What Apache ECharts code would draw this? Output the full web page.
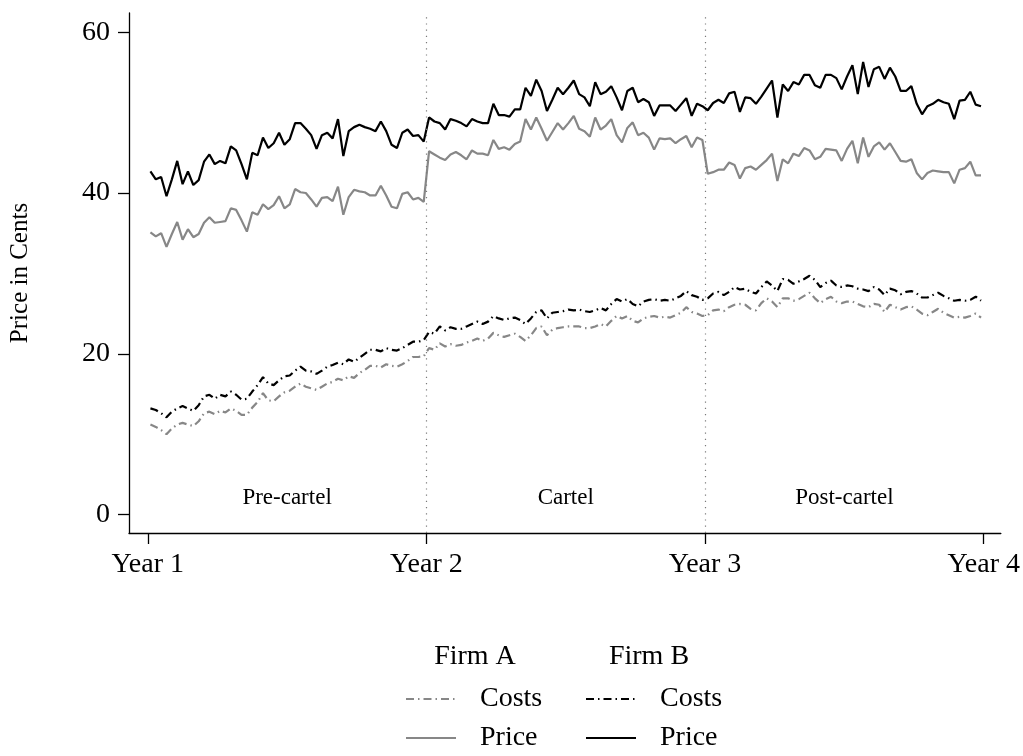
<!DOCTYPE html>
<html><head><meta charset="utf-8">
<script src="https://cdn.jsdelivr.net/npm/echarts@6/dist/echarts.min.js"></script>
<style>html,body{margin:0;padding:0;background:#fff}#c{width:1023px;height:756px}</style>
</head><body><div id="c"></div>
<script>
const yearLabels = ['Year 1', 'Year 2', 'Year 3', 'Year 4'];
const yearTicks = [0, 52, 104, 156];
const yTicks = [0, 20, 40, 60];
const periods = ['Pre-cartel', 'Cartel', 'Post-cartel'];
const firms = ['Firm A', 'Firm B'];
const yTitle = 'Price in Cents';

// weekly observations, 52 per year
const priceB = [
  42.7, 41.7, 42.0, 39.6, 41.7, 44.0, 41.1, 42.7, 41.0, 41.6,
  43.9, 44.8, 43.6, 44.0, 43.7, 45.8, 45.3, 43.6, 41.7, 45.0,
  44.7, 46.9, 45.6, 46.2, 47.5, 46.0, 46.7, 48.7, 48.7, 48.0,
  47.2, 45.5, 47.2, 47.5, 46.8, 49.2, 44.6, 47.7, 48.2, 48.5,
  48.2, 48.0, 47.7, 48.9, 47.7, 46.0, 45.6, 47.5, 47.9, 47.1,
  47.2, 46.4,
  49.4, 48.9, 48.7, 47.9, 49.2, 49.0, 48.7, 48.3, 49.2, 48.9,
  48.7, 48.7, 51.1, 49.7, 49.7, 49.5, 50.4, 50.4, 53.1, 52.1,
  54.1, 52.7, 50.2, 51.6, 53.1, 52.3, 53.1, 54.0, 52.3, 51.9,
  50.8, 53.8, 52.3, 52.6, 53.3, 51.9, 50.3, 52.7, 53.1, 51.3,
  51.7, 51.3, 49.6, 50.9, 50.9, 50.9, 50.2, 51.0, 51.8, 49.6,
  51.1, 50.8,
  50.3, 51.2, 51.6, 51.2, 52.4, 52.6, 50.1, 51.9, 51.8, 51.1,
  52.0, 53.0, 54.0, 49.4, 53.5, 52.7, 53.8, 53.5, 54.7, 54.7,
  53.4, 53.1, 54.7, 54.7, 54.3, 52.9, 54.5, 55.9, 52.3, 56.3,
  53.2, 55.4, 55.7, 54.2, 55.6, 54.5, 52.7, 52.7, 53.3, 51.1,
  49.8, 50.8, 51.1, 51.6, 51.3, 51.1, 49.2, 51.5, 51.6, 52.6,
  51.0, 50.8
];
const priceA = [
  35.1, 34.6, 35.0, 33.3, 34.9, 36.4, 34.2, 35.5, 34.5, 34.9,
  36.3, 37.0, 36.3, 36.4, 36.5, 38.1, 37.9, 36.6, 35.2, 37.6,
  37.3, 38.6, 38.0, 38.5, 39.6, 38.1, 38.6, 40.5, 40.1, 40.0,
  39.2, 38.3, 39.4, 39.5, 39.0, 40.8, 37.3, 39.5, 40.4, 40.2,
  40.1, 39.7, 39.7, 40.9, 39.7, 38.3, 38.1, 39.9, 40.1, 39.2,
  39.4, 38.9,
  45.2, 44.8, 44.4, 44.1, 44.8, 45.1, 44.7, 44.2, 45.3, 44.9,
  44.9, 44.7, 46.6, 45.5, 45.7, 45.4, 46.1, 46.4, 49.2, 47.9,
  49.4, 48.0, 46.5, 47.6, 48.7, 47.9, 48.7, 49.6, 48.0, 47.7,
  47.0, 49.4, 47.9, 48.4, 49.2, 47.2, 46.3, 48.1, 48.8, 47.2,
  47.5, 46.9, 45.4, 46.8, 46.7, 46.8, 46.2, 46.7, 47.1, 45.7,
  46.9, 46.6,
  42.4, 42.6, 42.9, 42.9, 43.8, 43.5, 41.8, 43.1, 43.3, 42.9,
  43.5, 44.1, 44.9, 41.5, 44.2, 43.7, 44.9, 44.6, 45.6, 45.3,
  44.2, 44.5, 45.5, 45.4, 45.3, 44.0, 45.5, 46.5, 43.7, 46.9,
  44.5, 45.8, 46.3, 45.4, 46.2, 45.1, 44.0, 43.9, 44.2, 42.5,
  41.7, 42.5, 42.8, 42.7, 42.6, 42.6, 41.2, 42.9, 43.1, 43.9,
  42.2, 42.2
];
const costsB = [
  13.2, 13.0, 12.6, 12.1, 12.8, 13.2, 13.5, 13.2, 12.9, 13.6,
  14.7, 14.9, 14.4, 14.9, 14.7, 15.3, 14.9, 14.3, 14.4, 15.3,
  16.1, 17.1, 16.3, 16.1, 16.7, 17.2, 17.3, 17.9, 18.4, 17.9,
  17.8, 17.5, 17.9, 18.4, 18.6, 18.9, 18.7, 19.3, 19.0, 19.5,
  20.0, 20.5, 20.5, 20.3, 20.7, 20.5, 20.4, 20.7, 21.1, 21.5,
  21.5, 21.7,
  22.7, 22.5, 23.4, 22.9, 23.3, 23.1, 23.1, 23.4, 23.7, 24.0,
  23.7, 24.0, 24.7, 24.4, 24.2, 24.4, 24.5, 24.2, 23.7, 24.4,
  25.2, 25.4, 24.4, 25.1, 25.2, 25.3, 25.5, 25.4, 25.5, 25.3,
  25.2, 25.4, 25.7, 25.4, 26.2, 26.8, 26.5, 26.8, 26.2, 25.9,
  26.5, 26.7, 26.8, 26.6, 26.7, 26.6, 26.9, 27.2, 27.8, 27.3,
  27.1, 26.7,
  26.9, 27.5, 27.7, 27.3, 27.7, 28.3, 28.0, 28.1, 27.7, 27.5,
  28.3, 29.0, 28.5, 27.8, 29.3, 29.2, 28.7, 29.0, 29.3, 29.7,
  29.2, 28.3, 28.8, 29.1, 28.5, 28.3, 28.5, 28.4, 28.1, 28.0,
  27.8, 28.3, 28.0, 27.3, 28.1, 27.9, 27.4, 27.7, 27.8, 27.5,
  27.0, 27.0, 27.3, 27.6, 27.2, 26.9, 26.6, 26.7, 26.6, 26.7,
  27.1, 26.6
];
const costsA = [
  11.2, 10.9, 10.5, 10.0, 10.7, 11.2, 11.4, 11.2, 11.0, 11.6,
  12.6, 12.8, 12.5, 12.9, 12.7, 13.2, 12.9, 12.4, 12.4, 13.3,
  14.0, 15.1, 14.2, 14.1, 14.7, 15.2, 15.4, 15.9, 16.3, 15.9,
  15.7, 15.5, 15.9, 16.3, 16.5, 16.9, 16.7, 17.2, 17.0, 17.6,
  18.0, 18.5, 18.5, 18.3, 18.7, 18.5, 18.4, 18.7, 19.1, 19.6,
  19.6, 19.7,
  20.7, 20.5, 21.3, 20.9, 21.2, 21.0, 21.1, 21.4, 21.6, 21.9,
  21.6, 21.9, 22.6, 22.3, 22.1, 22.3, 22.5, 22.1, 21.6, 22.3,
  23.2, 23.4, 22.3, 23.0, 23.2, 23.3, 23.4, 23.4, 23.4, 23.2,
  23.2, 23.4, 23.7, 23.4, 24.1, 24.7, 24.4, 24.7, 24.1, 23.9,
  24.4, 24.6, 24.7, 24.5, 24.6, 24.5, 24.8, 25.1, 25.8, 25.2,
  25.0, 24.7,
  24.8, 25.4, 25.5, 25.3, 25.8, 26.1, 26.2, 26.1, 25.6, 25.4,
  26.3, 26.9, 26.5, 25.8, 26.9, 26.9, 26.6, 26.8, 27.2, 27.6,
  26.9, 26.3, 26.8, 27.1, 26.5, 26.3, 26.5, 26.5, 26.2, 25.9,
  25.8, 26.2, 26.1, 25.2, 26.1, 25.8, 25.5, 25.8, 25.9, 25.5,
  25.0, 24.8, 25.2, 25.6, 25.1, 24.8, 24.5, 24.6, 24.5, 24.7,
  25.0, 24.5
];

const FONT = 'Liberation Serif';
const GREY = '#878787';
const BLACK = '#000000';
const DASHDOT = [8, 4, 1.5, 4];
const LW = 2.2;

const toXY = arr => arr.map((v, i) => [i + 0.5, v]);
const periodPts = periods.map((p, i) => [(yearTicks[i] + yearTicks[i + 1]) / 2, 2, p]);

const legendBase = {
  orient: 'vertical', top: 685, padding: 0, itemWidth: 50, itemHeight: 28, itemGap: 11,
  formatter: n => n.split(' ').pop(),
  itemStyle: {opacity: 0},
  textStyle: {fontFamily: FONT, fontSize: 28, color: '#000', padding: [0, 0, 0, 19]},
  selectedMode: false
};

const chart = echarts.init(document.getElementById('c'), null, {renderer: 'canvas'});
chart.setOption({
  animation: false,
  backgroundColor: '#fff',
  grid: {left: 129, top: 13, right: 21, bottom: 223, containLabel: false},
  xAxis: {
    type: 'value', min: -3.5, max: 159.2,
    axisLine: {show: true, onZero: false, lineStyle: {color: '#000', width: 1.3}},
    axisTick: {show: true, length: 11, customValues: yearTicks, lineStyle: {color: '#000', width: 1.3}},
    axisLabel: {
      show: true, customValues: yearTicks, margin: 18,
      fontFamily: FONT, fontSize: 28, color: '#000',
      formatter: v => yearLabels[yearTicks.indexOf(v)]
    },
    splitLine: {show: false}
  },
  yAxis: {
    type: 'value', min: -2.3, max: 62.4,
    axisLine: {show: true, onZero: false, lineStyle: {color: '#000', width: 1.3}},
    axisTick: {show: true, length: 11, customValues: yTicks, lineStyle: {color: '#000', width: 1.3}},
    axisLabel: {
      show: true, customValues: yTicks, margin: 19,
      fontFamily: FONT, fontSize: 28, color: '#000'
    },
    splitLine: {show: false}
  },
  legend: [
    Object.assign({}, legendBase, {data: ['Firm A Costs', 'Firm A Price'], left: 405}),
    Object.assign({}, legendBase, {data: ['Firm B Costs', 'Firm B Price'], left: 585})
  ],
  graphic: [
    {type: 'text', x: 20, y: 273, rotation: Math.PI / 2,
     style: {text: yTitle, fontFamily: FONT, fontSize: 25, fill: '#000', textAlign: 'center', textVerticalAlign: 'middle'}},
    {type: 'text', x: 475, y: 657,
     style: {text: firms[0], fontFamily: FONT, fontSize: 28, fill: '#000', textAlign: 'center', textVerticalAlign: 'middle'}},
    {type: 'text', x: 649, y: 657,
     style: {text: firms[1], fontFamily: FONT, fontSize: 28, fill: '#000', textAlign: 'center', textVerticalAlign: 'middle'}}
  ],
  series: [
    {
      name: 'Firm A Costs', type: 'line', data: toXY(costsA), symbol: 'none', showSymbol: false,
      lineStyle: {color: GREY, width: LW, type: DASHDOT}, itemStyle: {color: GREY}
    },
    {
      name: 'Firm A Price', type: 'line', data: toXY(priceA), symbol: 'none', showSymbol: false,
      lineStyle: {color: GREY, width: LW, type: 'solid'}, itemStyle: {color: GREY}
    },
    {
      name: 'Firm B Costs', type: 'line', data: toXY(costsB), symbol: 'none', showSymbol: false,
      lineStyle: {color: BLACK, width: LW, type: DASHDOT}, itemStyle: {color: BLACK}
    },
    {
      name: 'Firm B Price', type: 'line', data: toXY(priceB), symbol: 'none', showSymbol: false,
      lineStyle: {color: BLACK, width: LW, type: 'solid'}, itemStyle: {color: BLACK},
      markLine: {
        silent: true, symbol: 'none', label: {show: false},
        lineStyle: {color: '#7a7a7a', width: 1.2, type: [1.2, 5]},
        data: yearTicks.slice(1, 3).map(v => ({xAxis: v}))
      }
    },
    {
      name: 'periods', type: 'scatter', data: periodPts, symbolSize: 0, silent: true,
      itemStyle: {opacity: 1, color: '#000'},
      label: {show: true, position: 'inside', formatter: p => p.data[2], opacity: 1,
              fontFamily: FONT, fontSize: 23, color: '#000', textBorderWidth: 0}
    }
  ]
});
</script>
</body></html>
